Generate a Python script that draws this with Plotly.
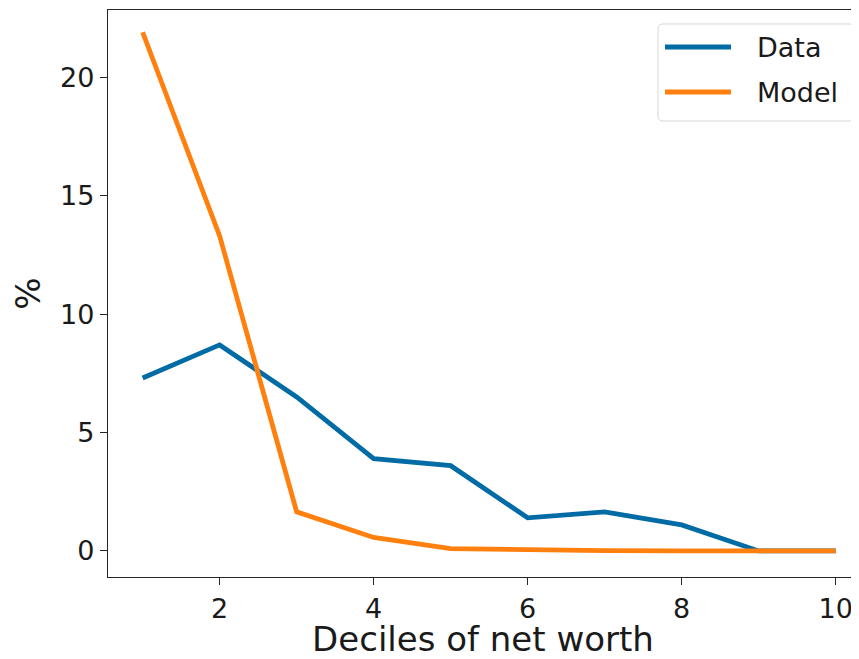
import re
import plotly.graph_objects as go

deciles = [1, 2, 3, 4, 5, 6, 7, 8, 9, 10]
data_vals = [7.3, 8.7, 6.5, 3.9, 3.6, 1.4, 1.65, 1.1, 0.0, 0.0]
model_vals = [21.9, 13.3, 1.65, 0.57, 0.1, 0.03, 0.01, 0.0, 0.0, 0.0]
series_names = ["Data", "Model"]
series_colors = ["#006BA4", "#FF800E"]

# page has an 8px body margin; size figure so the plot area lands where wanted
OFF = 8
W, H = 859 - OFF, 659 - OFF
PL, PR, PT, PB = 108, 858, 10, 577  # plot area in page pixels
ML, MT = PL - OFF, PT - OFF
MR = W - (PR - OFF)
MB = H - (PB - OFF)
PW, PH = PR - PL, PB - PT

def px_x(p):
    return (p - PL) / PW

def px_y(p):
    return (PB - p) / PH

LW = 4.8
fig = go.Figure()
for name, vals, col in zip(series_names, [data_vals, model_vals], series_colors):
    fig.add_trace(go.Scatter(x=deciles, y=vals, mode="lines", name=name,
                             line=dict(color=col, width=LW), showlegend=False))

font = "DejaVu Sans, Liberation Sans, sans-serif"

# manual legend (matplotlib-like rounded box)
x0, x1, y0, y1, r = 658, 854, 24, 121, 5
path = (f"M{x0+r},{y0} L{x1-r},{y0} Q{x1},{y0} {x1},{y0+r} L{x1},{y1-r} "
        f"Q{x1},{y1} {x1-r},{y1} L{x0+r},{y1} Q{x0},{y1} {x0},{y1-r} "
        f"L{x0},{y0+r} Q{x0},{y0} {x0+r},{y0} Z")

def repl(m):
    return f"{px_x(float(m.group(1))):.5f},{px_y(float(m.group(2))):.5f}"

shapes = [dict(type="path", path=re.sub(r"(-?\d+\.?\d*),(-?\d+\.?\d*)", repl, path),
               xref="x domain", yref="y domain",
               line=dict(color="#d6d6d6", width=1), fillcolor="rgba(255,255,255,0.8)",
               layer="above")]
annotations = []
row_y = [47, 92]
for name, col, yy in zip(series_names, series_colors, row_y):
    shapes.append(dict(type="line", xref="x domain", yref="y domain",
                       x0=px_x(665), x1=px_x(731), y0=px_y(yy), y1=px_y(yy),
                       line=dict(color=col, width=LW), layer="above"))
    annotations.append(dict(text=name, xref="x domain", yref="y domain",
                            x=px_x(755), y=px_y(yy), xanchor="left", yanchor="middle",
                            showarrow=False, font=dict(size=27, family=font, color="#1a1a1a")))

fig.update_layout(
    width=W, height=H,
    margin=dict(l=ML, r=MR, t=MT, b=MB, autoexpand=False),
    paper_bgcolor="white", plot_bgcolor="white",
    font=dict(family=font, color="#1a1a1a", size=27),
    showlegend=False,
    shapes=shapes, annotations=annotations,
    xaxis=dict(range=[0.55, 10.29], tickvals=[2, 4, 6, 8, 10], automargin=False,
               showgrid=False, zeroline=False, showline=True, linecolor="#262626",
               linewidth=1.3, mirror=True, ticks="outside", ticklen=7, tickwidth=1.2,
               tickcolor="#262626", tickfont=dict(size=27),
               title=dict(text="Deciles of net worth", font=dict(size=34), standoff=8)),
    yaxis=dict(range=[-1.10, 22.84], tickvals=[0, 5, 10, 15, 20], automargin=False,
               showgrid=False, zeroline=False, showline=True, linecolor="#262626",
               linewidth=1.3, mirror=False, ticks="outside", ticklen=7, tickwidth=1.2,
               tickcolor="#262626", tickfont=dict(size=27),
               title=dict(text="%", font=dict(size=34), standoff=14)),
)

fig.write_html("out.html")
